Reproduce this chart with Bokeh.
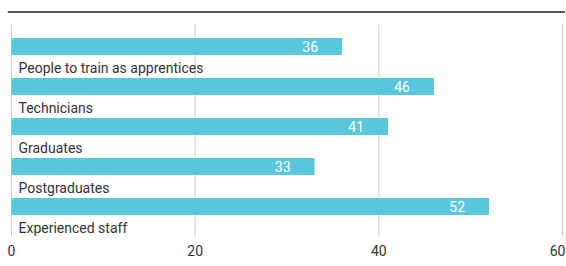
from bokeh.plotting import figure
from bokeh.models import ColumnDataSource, Range1d, FixedTicker, Span
from bokeh.core.properties import value
from bokeh.embed import file_html
from bokeh.resources import INLINE

categories = ["People to train as apprentices", "Technicians", "Graduates",
              "Postgraduates", "Experienced staff"]
values = [36, 46, 41, 33, 52]
ticks = [0, 20, 40, 60]

FONT = "Roboto"
BAR = "#58c7db"

pos = list(range(len(categories)))
src = ColumnDataSource(dict(
    y=pos,
    ylab=[p + 0.5 for p in pos],
    v=values,
    zero=[0] * len(values),
    cat=categories,
    vtxt=[str(v) for v in values],
))

x_start, x_end = -0.4356, 60.327
y_top, y_bot = -0.975, 4.75
p = figure(frame_width=558, frame_height=229, output_backend="svg",
           toolbar_location=None, x_range=Range1d(x_start, x_end),
           y_range=Range1d(y_bot, y_top), min_border=0,
           min_border_left=7, min_border_top=7)
p.outline_line_color = None
p.yaxis.visible = False
p.ygrid.visible = False
p.xgrid.visible = False

# grid lines (from tick list), starting below the top rule
grid_top = -0.55
p.segment(x0=ticks, x1=ticks, y0=[grid_top] * len(ticks), y1=[y_bot] * len(ticks),
          line_color="#cccccc", line_width=1)

p.hbar(y="y", left="zero", right="v", height=0.425, source=src,
       fill_color=BAR, line_color=None)

p.text(x="v", y="y", text="vtxt", source=src, text_align="right",
       text_baseline="middle", x_offset=-24, text_color="white",
       text_font=value(FONT), text_font_size="14px")

p.text(x="zero", y="ylab", text="cat", source=src, text_align="left",
       text_baseline="middle", x_offset=7, y_offset=1, text_color="#333333",
       text_font=value(FONT), text_font_size="14px")

rule = Span(location=y_top + 0.115, dimension="width", line_color="#555555",
            line_width=2)
p.add_layout(rule)

ax = p.xaxis[0]
ax.ticker = FixedTicker(ticks=ticks)
ax.axis_line_color = None
ax.major_tick_line_color = None
ax.minor_tick_line_color = None
ax.major_tick_out = 0
ax.major_tick_in = 0
ax.major_label_standoff = 8
ax.major_label_text_font = FONT
ax.major_label_text_font_size = "14px"
ax.major_label_text_color = "#333333"

open("out.html", "w").write(file_html(p, INLINE))
